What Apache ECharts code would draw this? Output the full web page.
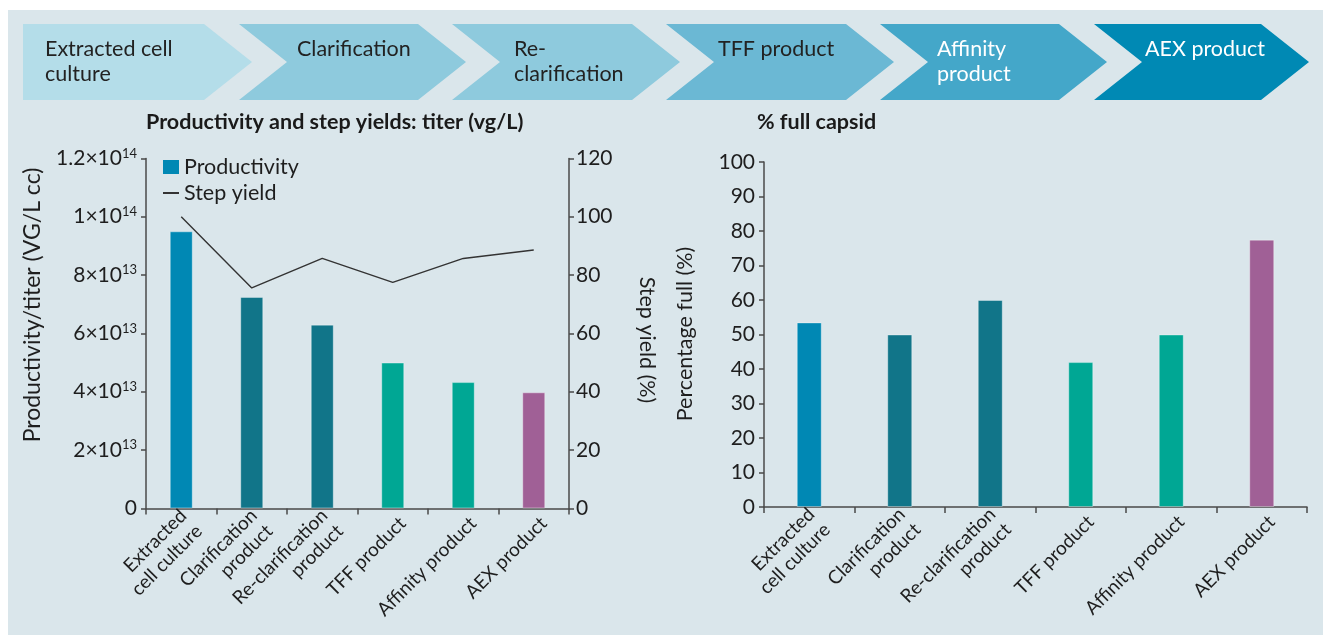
<!DOCTYPE html>
<html>
<head>
<meta charset="utf-8">
<script src="https://cdn.jsdelivr.net/npm/echarts@6/dist/echarts.min.js"></script>
<style>
html,body{margin:0;padding:0;background:#fff;}
#chart{width:1323px;height:635px;}
</style>
</head>
<body>
<div id="chart"></div>
<script>
// ---- data ----
const stepLabels = ['Extracted cell\nculture', 'Clarification', 'Re-\nclarification', 'TFF product', 'Affinity\nproduct', 'AEX product'];
const categories = ['Extracted\ncell culture', 'Clarification\nproduct', 'Re-clarification\nproduct', 'TFF product', 'Affinity product', 'AEX product'];
const productivity = [9.5e13, 7.25e13, 6.3e13, 5.0e13, 4.33e13, 3.98e13];
const stepYield = [100, 75.6, 85.7, 77.5, 85.7, 88.6];
const percentFull = [53.5, 50, 60, 42, 50, 77.5];
const leftTicks = { min: 0, max: 1.2e14, interval: 2e13 };
const yieldTicks = { min: 0, max: 120, interval: 20 };
const fullTicks = { min: 0, max: 100, interval: 10 };
const axisNames = { titer: 'Productivity/titer (VG/L cc)', yield: 'Step yield (%)', full: 'Percentage full (%)' };

// ---- styles ----
const barColors = ['#0088b4', '#117589', '#117589', '#00a794', '#00a794', '#a06096'];
const chevronColors = ['#b4dde9', '#8ecadd', '#8ecadd', '#6bb8d4', '#44a7c9', '#0089b4'];
const chevronTextColors = ['#222', '#222', '#222', '#222', '#fff', '#fff'];
const FONT = 'Lato, "Noto Sans", sans-serif';
const axisColor = '#4a4a4a';
const textColor = '#1e1e1e';

const chart = echarts.init(document.getElementById('chart'), null, { renderer: 'canvas' });

// chevron banner graphics
const chevStarts = [23, 239, 452, 666, 880, 1094];
const chevTips = [252, 466, 680, 894, 1107, 1309];
const chevTop = 24, chevBot = 100, chevMid = 62, tip = 48;
const textX = [45, 297, 514, 718, 937, 1145];
const graphics = [{
  type: 'rect', shape: { x: 8, y: 10, width: 1315, height: 625 },
  style: { fill: '#dae6eb' }, z: -10, silent: true
}];
chevStarts.forEach((x0, i) => {
  const xt = chevTips[i];
  const pts = i === 0
    ? [[x0, chevTop], [xt - tip, chevTop], [xt, chevMid], [xt - tip, chevBot], [x0, chevBot]]
    : [[x0, chevTop], [xt - tip, chevTop], [xt, chevMid], [xt - tip, chevBot], [x0, chevBot], [x0 + tip, chevMid]];
  graphics.push({ type: 'polygon', shape: { points: pts }, style: { fill: chevronColors[i] }, z: -5, silent: true });
  graphics.push({
    type: 'text', x: textX[i], y: 37, z: -4, silent: true,
    style: { text: stepLabels[i], fill: chevronTextColors[i], font: '21.5px ' + FONT, lineHeight: 25, verticalAlign: 'top' }
  });
});
// axis titles
[[axisNames.titer, 33, 305, Math.PI / 2, 23],
 [axisNames.yield, 647, 340, -Math.PI / 2, 21.5],
 [axisNames.full, 685, 334, Math.PI / 2, 21.5]].forEach(([t, x, y, r, fs]) => {
  graphics.push({ type: 'text', x: x, y: y, rotation: r, silent: true, z: 10,
    style: { text: t, fill: textColor, font: fs + 'px ' + FONT, align: 'center', verticalAlign: 'middle' } });
});

function sciFmt(v) {
  if (v === 0) return '{b|0}';
  const e = Math.floor(Math.log10(v) + 1e-9);
  const m = +(v / Math.pow(10, e)).toFixed(2);
  return '{b|' + m + '×10}{sup|' + e + '}';
}
function catFmt(v) {
  return '{sp| }\n' + v.split('\n').map(s => '{t|' + s + '}').join('\n');
}

const tickLabelStyle = { color: textColor, fontFamily: FONT, fontSize: 21 };
const catLabel = { color: textColor, fontFamily: FONT, fontSize: 19, rotate: 45, interval: 0, margin: 2,
  formatter: catFmt,
  rich: { sp: { fontSize: 1, lineHeight: 28 }, t: { fontFamily: FONT, fontSize: 19, lineHeight: 22, color: textColor } } };

const option = {
  backgroundColor: '#ffffff',
  animation: false,
  graphic: graphics,
  title: [
    { text: 'Productivity and step yields: titer (vg/L)', left: 146, top: 111, padding: 0,
      textStyle: { fontFamily: FONT, fontSize: 21.5, fontWeight: 'bold', color: '#1a1a1a' } },
    { text: '% full capsid', left: 757, top: 111, padding: 0,
      textStyle: { fontFamily: FONT, fontSize: 21.5, fontWeight: 'bold', color: '#1a1a1a' } }
  ],
  legend: {
    left: 162, top: 156, padding: 0, orient: 'vertical', itemGap: 4, itemWidth: 16, itemHeight: 14,
    textStyle: { fontFamily: FONT, fontSize: 21.5, color: textColor },
    data: [{ name: 'Productivity', icon: 'rect' }, { name: 'Step yield', itemStyle: { opacity: 0 } }]
  },
  grid: [
    { left: 146, right: 754, top: 158.4, bottom: 126.6, containLabel: false },
    { left: 764, right: 16, top: 162, bottom: 128, containLabel: false }
  ],
  xAxis: [
    { type: 'category', gridIndex: 0, data: categories,
      axisLine: { lineStyle: { color: axisColor, width: 1.5 } },
      axisTick: { show: true, length: 6, lineStyle: { color: axisColor, width: 1.5 } },
      axisLabel: catLabel },
    { type: 'category', gridIndex: 1, data: categories,
      axisLine: { lineStyle: { color: axisColor, width: 1.5 } },
      axisTick: { show: true, length: 6, lineStyle: { color: axisColor, width: 1.5 } },
      axisLabel: catLabel }
  ],
  yAxis: [
    { type: 'value', gridIndex: 0, position: 'left', min: leftTicks.min, max: leftTicks.max, interval: leftTicks.interval,
      axisLine: { show: true, lineStyle: { color: axisColor, width: 1.5 } },
      axisTick: { show: true, length: 5, lineStyle: { color: axisColor, width: 1.5 } },
      splitLine: { show: false },
      axisLabel: { formatter: sciFmt, margin: 9,
        rich: { b: { fontFamily: FONT, fontSize: 21, color: textColor },
                sup: { fontFamily: FONT, fontSize: 13, color: textColor, verticalAlign: 'top', padding: [0, 0, 10, 0] } },
        ...tickLabelStyle } },
    { type: 'value', gridIndex: 0, position: 'right', min: yieldTicks.min, max: yieldTicks.max, interval: yieldTicks.interval,
      axisLine: { show: true, lineStyle: { color: axisColor, width: 1.5 } },
      axisTick: { show: true, length: 5, lineStyle: { color: axisColor, width: 1.5 } },
      splitLine: { show: false },
      axisLabel: { margin: 7, ...tickLabelStyle } },
    { type: 'value', gridIndex: 1, min: fullTicks.min, max: fullTicks.max, interval: fullTicks.interval,
      axisLine: { show: true, lineStyle: { color: axisColor, width: 1.5 } },
      axisTick: { show: true, length: 5, lineStyle: { color: axisColor, width: 1.5 } },
      splitLine: { show: false },
      axisLabel: { margin: 9, ...tickLabelStyle } }
  ],
  series: [
    { name: 'Productivity', type: 'bar', xAxisIndex: 0, yAxisIndex: 0, barWidth: 23,
      itemStyle: { color: barColors[0] },
      data: productivity.map((v, i) => ({ value: v, itemStyle: { color: barColors[i], borderColor: 'rgba(255,255,255,0.35)', borderWidth: 1 } })) },
    { name: 'Step yield', type: 'line', xAxisIndex: 0, yAxisIndex: 1, symbol: 'none',
      lineStyle: { color: '#333', width: 1.4 }, itemStyle: { color: '#333' },
      data: stepYield },
    { name: 'Percentage full', type: 'bar', xAxisIndex: 1, yAxisIndex: 2, barWidth: 25,
      data: percentFull.map((v, i) => ({ value: v, itemStyle: { color: barColors[i], borderColor: 'rgba(255,255,255,0.35)', borderWidth: 1 } })) }
  ]
};
chart.setOption(option);
</script>
</body>
</html>
